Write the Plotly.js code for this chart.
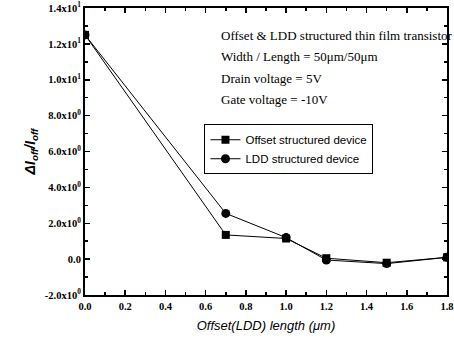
<!DOCTYPE html>
<html><head><meta charset="utf-8">
<script src="https://cdn.plot.ly/plotly-3.0.1.min.js"></script>
<style>html,body{margin:0;padding:0;background:#fff}#c{width:454px;height:343px}</style>
</head><body><div id="c"></div>
<script>
const offsetLen = [0.0, 0.7, 1.0, 1.2, 1.5, 1.8];
const offsetDevice = [12.5, 1.35, 1.15, 0.05, -0.2, 0.1];
const lddDevice = [12.5, 2.55, 1.2, -0.05, -0.25, 0.1];
const yTickVals = [-2, 0, 2, 4, 6, 8, 10, 12, 14];
const yTickText = ['-2.0x10<sup>0</sup>', '0.0', '2.0x10<sup>0</sup>', '4.0x10<sup>0</sup>', '6.0x10<sup>0</sup>', '8.0x10<sup>0</sup>', '1.0x10<sup>1</sup>', '1.2x10<sup>1</sup>', '1.4x10<sup>1</sup>'];
const notes = ['Offset &amp; LDD structured thin film transistor', 'Width / Length = 50μm/50μm', 'Drain voltage = 5V', 'Gate voltage = -10V'];

const traces = [
  {x: offsetLen, y: offsetDevice, name: 'Offset structured device', mode: 'lines+markers',
   line: {color: '#000', width: 1}, marker: {symbol: 'square', size: 8, color: '#000'}},
  {x: offsetLen, y: lddDevice, name: 'LDD structured device', mode: 'lines+markers',
   line: {color: '#000', width: 1}, marker: {symbol: 'circle', size: 9, color: '#000'}}
];
const serif = 'Liberation Serif, Times New Roman, serif';
const annY = [0.903, 0.830, 0.753, 0.681];
const layout = {
  width: 454, height: 343,
  margin: {l: 85, r: 7, t: 8, b: 48},
  paper_bgcolor: '#fff', plot_bgcolor: '#fff',
  showlegend: true,
  legend: {x: 0.33, y: 0.595, xanchor: 'left', yanchor: 'top', bgcolor: '#fff',
    bordercolor: '#000', borderwidth: 1, font: {family: 'Liberation Sans, Arial', size: 11.5, color: '#000'},
    itemwidth: 30, tracegroupgap: 2},
  xaxis: {range: [0, 1.8], tickvals: [0, 0.2, 0.4, 0.6, 0.8, 1.0, 1.2, 1.4, 1.6, 1.8],
    ticktext: ['0.0','0.2','0.4','0.6','0.8','1.0','1.2','1.4','1.6','1.8'],
    ticks: 'inside', ticklen: 5, tickwidth: 1.5, tickcolor: '#000',
    minor: {dtick: 0.1, tick0: 0, ticks: 'inside', ticklen: 3, tickcolor: '#000'},
    showline: true, linewidth: 2, linecolor: '#000', mirror: 'allticks', showgrid: false, zeroline: false,
    ticklabeloverflow: 'allow',
    tickfont: {family: serif, size: 10.5, color: '#000', weight: 'bold'},
    title: {text: 'Offset(LDD) length (μm)', standoff: 10,
      font: {family: 'Liberation Sans, Arial', size: 13, color: '#000', style: 'italic'}}},
  yaxis: {range: [-2, 14], tickvals: yTickVals, ticktext: yTickText,
    ticks: 'inside', ticklen: 5, tickwidth: 1.5, tickcolor: '#000',
    minor: {dtick: 1, tick0: 0, ticks: 'inside', ticklen: 3, tickcolor: '#000'},
    showline: true, linewidth: 2, linecolor: '#000', mirror: 'allticks', showgrid: false, zeroline: false,
    ticklabeloverflow: 'allow',
    tickfont: {family: serif, size: 10.5, color: '#000', weight: 'bold'},
    title: {text: 'ΔI<sub>off</sub>/I<sub>off</sub>', standoff: 6,
      font: {family: 'Liberation Sans, Arial', size: 14, color: '#000', style: 'italic', weight: 'bold'}}},
  annotations: notes.map((t, i) => ({text: t, xref: 'paper', yref: 'paper', x: 0.37, y: annY[i],
    xanchor: 'left', yanchor: 'middle', showarrow: false,
    font: {family: serif, size: 13, color: '#000'}}))
};
Plotly.newPlot('c', traces, layout, {displayModeBar: false, staticPlot: true});
</script></body></html>
